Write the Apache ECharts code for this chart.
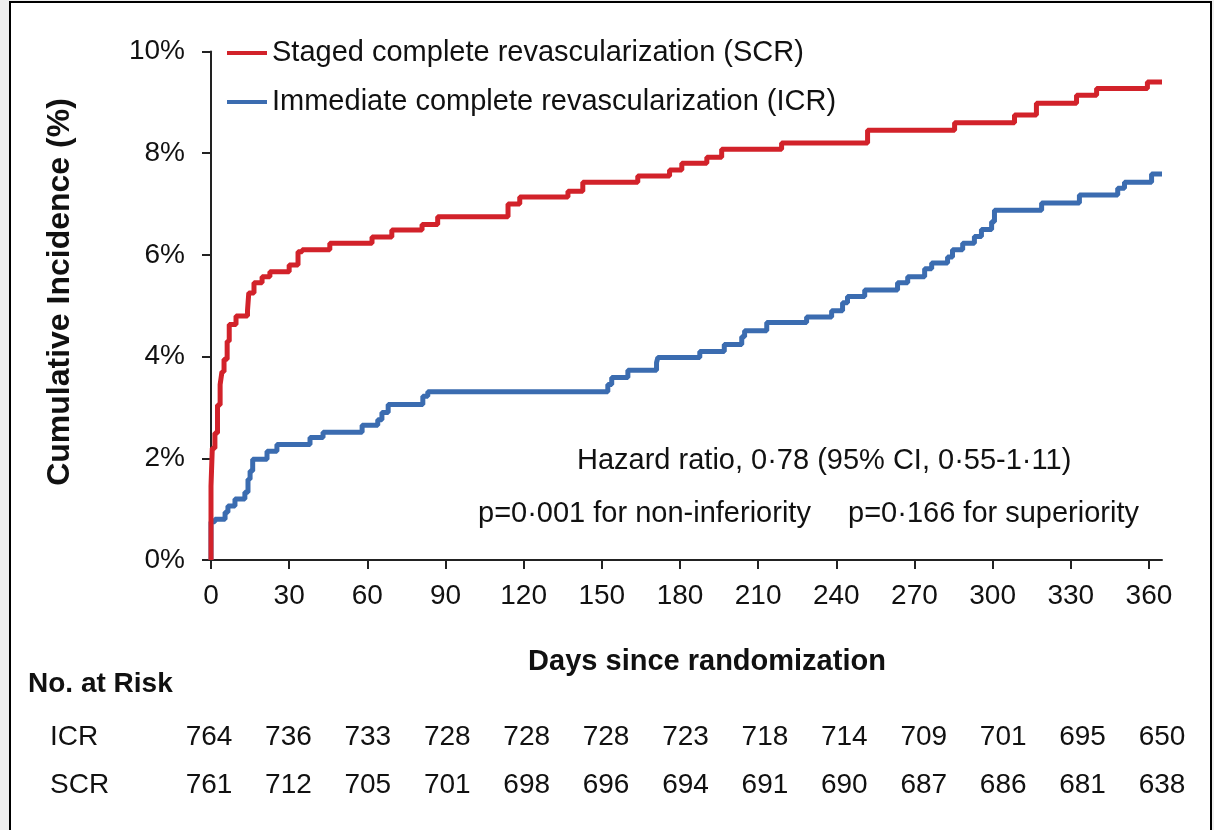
<!DOCTYPE html>
<html>
<head>
<meta charset="utf-8">
<title>Cumulative incidence ICR vs SCR</title>
<script src="https://cdn.jsdelivr.net/npm/echarts@6/dist/echarts.min.js"></script>
<style>
  html, body { margin: 0; padding: 0; background: #efefef; }
  #main { width: 1214px; height: 830px; }
</style>
</head>
<body>
<div id="main"></div>
<script>
// step points: day where the step happens, value after it (%)
var scrDays = [0, 0, 0.5, 1.5, 2.5, 3.5, 4.2, 5, 6.2, 7, 9.6, 14, 14.5, 16.5, 19.6, 22.6, 30, 33.4, 35, 45.6, 61.8, 69.4, 81, 87, 114, 118.5, 137, 142.7, 163.8, 176, 180.7, 190.3, 196, 219, 252, 285.4, 308.4, 316.8, 332.2, 339.9, 359.4, 365];
var scrPct  = [0, 1.45, 2.2, 2.5, 3.05, 3.45, 3.7, 3.95, 4.3, 4.63, 4.8, 4.9, 5.25, 5.45, 5.57, 5.67, 5.8, 6.06, 6.1, 6.23, 6.35, 6.49, 6.6, 6.75, 7.0, 7.14, 7.25, 7.43, 7.55, 7.67, 7.8, 7.92, 8.08, 8.2, 8.45, 8.6, 8.75, 8.98, 9.14, 9.27, 9.4, 9.4];

var icrDays = [0, 0, 1.5, 5.4, 6.5, 9.2, 13, 14.2, 15, 16, 21.5, 25.3, 38, 43, 58, 64, 65.6, 68, 81.3, 83.2, 152.3, 153.8, 160, 171, 171.5, 187.6, 197, 203.7, 204.8, 213.3, 228.6, 238.2, 242.4, 244.3, 250.9, 263.5, 267.4, 273.9, 276.6, 282.7, 284.6, 288.5, 293, 295.7, 299.6, 300.7, 318.8, 333.3, 348, 350.6, 361, 365];
var icrPct  = [0, 0.75, 0.8, 0.94, 1.06, 1.2, 1.33, 1.59, 1.75, 1.98, 2.14, 2.27, 2.41, 2.51, 2.65, 2.76, 2.9, 3.06, 3.22, 3.31, 3.45, 3.59, 3.73, 3.88, 3.98, 4.1, 4.24, 4.39, 4.51, 4.67, 4.78, 4.9, 5.06, 5.18, 5.31, 5.45, 5.57, 5.73, 5.84, 5.96, 6.1, 6.23, 6.36, 6.5, 6.65, 6.88, 7.02, 7.18, 7.31, 7.43, 7.59, 7.59];

var dayTicks = [0, 30, 60, 90, 120, 150, 180, 210, 240, 270, 300, 330, 360];
var riskRows = ['ICR', 'SCR'];
var icrRisk = [764, 736, 733, 728, 728, 728, 723, 718, 714, 709, 701, 695, 650];
var scrRisk = [761, 712, 705, 701, 698, 696, 694, 691, 690, 687, 686, 681, 638];

var seriesNames = ['Staged complete revascularization (SCR)', 'Immediate complete revascularization (ICR)'];

function pairs(xs, ys) {
    var res = [];
    for (var i = 0; i < xs.length; i++) {
        res.push([xs[i], ys[i]]);
    }
    return res;
}

var riskData = [];
for (var i = 0; i < dayTicks.length; i++) {
    riskData.push([dayTicks[i], 'ICR', icrRisk[i]]);
    riskData.push([dayTicks[i], 'SCR', scrRisk[i]]);
}

var font = '"Liberation Sans", Arial, sans-serif';
var ink = '#111111';

var myChart = echarts.init(document.getElementById('main'));

var option = {
    animation: false,
    backgroundColor: 'transparent',
    textStyle: { fontFamily: font },
    graphic: [
        {
            type: 'rect', z: -100, silent: true,
            shape: { x: 10, y: 2, width: 1201, height: 840 },
            style: { fill: '#ffffff', stroke: '#000000', lineWidth: 2 }
        },
        {
            type: 'text', left: 28, top: 670,
            style: { text: 'No. at Risk', fontSize: 28, fontWeight: 'bold', fontFamily: font, fill: ink }
        },
        {
            type: 'text', x: 707, y: 662,
            style: { text: 'Days since randomization', fontSize: 29, fontWeight: 'bold', fontFamily: font, fill: ink, align: 'center', verticalAlign: 'middle' }
        },
        {
            type: 'text', x: 60, y: 292, rotation: Math.PI / 2,
            style: { text: 'Cumulative Incidence (%)', fontSize: 32, fontWeight: 'bold', fontFamily: font, fill: ink, align: 'center', verticalAlign: 'middle' }
        },
        {
            type: 'text', x: 577, y: 461,
            style: { text: 'Hazard ratio, 0\u00b778 (95% CI, 0\u00b755-1\u00b711)', fontSize: 29, fontFamily: font, fill: ink, align: 'left', verticalAlign: 'middle' }
        },
        {
            type: 'text', x: 478, y: 514,
            style: { text: 'p=0\u00b7001 for non-inferiority', fontSize: 29, fontFamily: font, fill: ink, align: 'left', verticalAlign: 'middle' }
        },
        {
            type: 'text', x: 1139, y: 514,
            style: { text: 'p=0\u00b7166 for superiority', fontSize: 29, fontFamily: font, fill: ink, align: 'right', verticalAlign: 'middle' }
        }
    ],
    legend: {
        data: seriesNames,
        orient: 'vertical',
        left: 222,
        top: 33,
        icon: 'rect',
        itemWidth: 40,
        itemHeight: 4,
        itemGap: 19,
        textStyle: { fontSize: 29, fontFamily: font, color: ink, lineHeight: 30 }
    },
    grid: [
        { left: 211, right: 52, top: 51.5, bottom: 270 },
        { left: 209, right: 52, top: 713, height: 96 }
    ],
    xAxis: [
        {
            type: 'value', gridIndex: 0, min: 0, max: 365,
            splitLine: { show: false },
            axisLine: { lineStyle: { color: '#222', width: 2 } },
            axisTick: { customValues: dayTicks, length: 9, lineStyle: { color: '#222', width: 2 } },
            axisLabel: { customValues: dayTicks, fontSize: 28, color: ink, margin: 22 }
        },
        {
            type: 'value', gridIndex: 1, min: 0, max: 360, show: false
        }
    ],
    yAxis: [
        {
            type: 'value', gridIndex: 0, min: 0, max: 10, interval: 2,
            splitLine: { show: false },
            axisLine: { show: true, lineStyle: { color: '#222', width: 2 } },
            axisTick: { show: true, length: 9, lineStyle: { color: '#222', width: 2 } },
            axisLabel: { formatter: '{value}%', fontSize: 28, color: ink, margin: 26 }
        },
        {
            type: 'category', gridIndex: 1, data: riskRows, inverse: true,
            axisLine: { show: false },
            axisTick: { show: false },
            splitLine: { show: false },
            axisLabel: { fontSize: 28, color: ink, align: 'left', margin: 159 }
        }
    ],
    series: [
        {
            name: seriesNames[1],
            type: 'line',
            step: 'end',
            showSymbol: false,
            data: pairs(icrDays, icrPct),
            lineStyle: { color: '#3b6cb0', width: 5 },
            itemStyle: { color: '#3b6cb0' },
            z: 3
        },
        {
            name: seriesNames[0],
            type: 'line',
            step: 'end',
            showSymbol: false,
            data: pairs(scrDays, scrPct),
            lineStyle: { color: '#d2222a', width: 5 },
            itemStyle: { color: '#d2222a' },
            z: 4
        },
        {
            type: 'scatter',
            xAxisIndex: 1,
            yAxisIndex: 1,
            symbolSize: 0,
            itemStyle: { color: ink, opacity: 1 },
            silent: true,
            data: riskData,
            label: {
                show: true,
                position: 'inside',
                fontSize: 28,
                color: ink,
                opacity: 1,
                textBorderWidth: 0,
                formatter: function (p) { return p.value[2]; }
            }
        }
    ]
};

myChart.setOption(option);

window.addEventListener('resize', function () {
    myChart.resize();
});
</script>
</body>
</html>
